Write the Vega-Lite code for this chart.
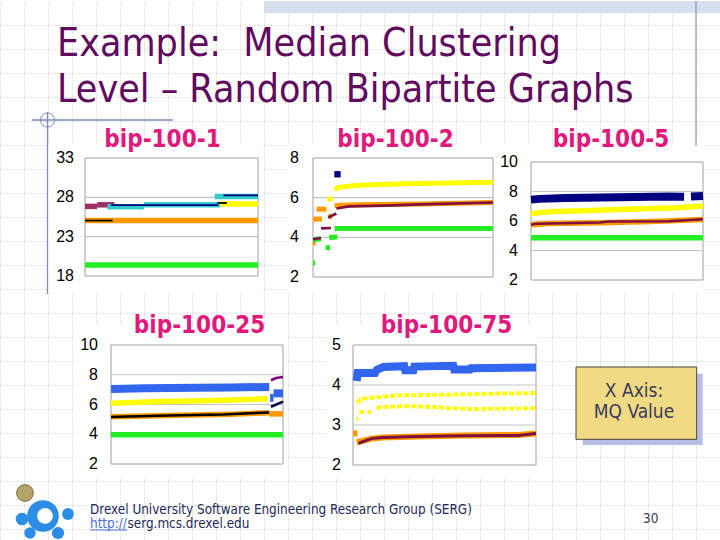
{
"$schema":"https://vega.github.io/schema/vega-lite/v6.json",
"width":720,"height":540,
"autosize":{"type":"fit","contains":"padding"},
"padding":0,
"background":"#ffffff",
"config":{"view":{"stroke":null}},
"resolve":{"scale":{"x":"independent","y":"independent"}},
"datasets":{"series":[
{"p":1,"s":"green","g":1,"x":0,"y":19.4},{"p":1,"s":"green","g":1,"x":100,"y":19.4},
{"p":1,"s":"orange","g":1,"x":0,"y":25.05},{"p":1,"s":"orange","g":1,"x":100,"y":25.05},
{"p":1,"s":"purple","g":1,"x":0,"y":26.85},{"p":1,"s":"purple","g":1,"x":7,"y":26.85},
{"p":1,"s":"purple","g":2,"x":7,"y":27.05},{"p":1,"s":"purple","g":2,"x":17,"y":27.05},
{"p":1,"s":"cyan","g":1,"x":13,"y":26.8},{"p":1,"s":"cyan","g":1,"x":34,"y":26.8},
{"p":1,"s":"cyan","g":2,"x":34,"y":27.05},{"p":1,"s":"cyan","g":2,"x":78,"y":27.05},
{"p":1,"s":"cyan","g":3,"x":75,"y":28.1},{"p":1,"s":"cyan","g":3,"x":100,"y":28.1},
{"p":1,"s":"yellow","g":1,"x":78,"y":27.15},{"p":1,"s":"yellow","g":1,"x":100,"y":27.15},
{"p":1,"s":"black","g":1,"x":0,"y":25.05},{"p":1,"s":"black","g":1,"x":16,"y":25.05},
{"p":1,"s":"black","g":2,"x":76.5,"y":27.28},{"p":1,"s":"black","g":2,"x":82,"y":27.28},
{"p":1,"s":"navy","g":1,"x":15,"y":27.0},{"p":1,"s":"navy","g":1,"x":77,"y":27.0},
{"p":1,"s":"navy","g":2,"x":80,"y":28.25},{"p":1,"s":"navy","g":2,"x":100,"y":28.25},

{"p":2,"s":"orange","g":1,"x":0,"y":3.72},{"p":2,"s":"orange","g":1,"x":1.5,"y":3.72},
{"p":2,"s":"orange","g":2,"x":0,"y":4.92},{"p":2,"s":"orange","g":2,"x":5,"y":4.92},
{"p":2,"s":"orange","g":3,"x":2,"y":5.42},{"p":2,"s":"orange","g":3,"x":7.5,"y":5.42},
{"p":2,"s":"orange","g":4,"x":8.5,"y":5.05},{"p":2,"s":"orange","g":4,"x":10.5,"y":5.05},
{"p":2,"s":"orange","g":5,"x":12,"y":5.6},{"p":2,"s":"orange","g":5,"x":25,"y":5.64},{"p":2,"s":"orange","g":5,"x":60,"y":5.68},{"p":2,"s":"orange","g":5,"x":100,"y":5.76},
{"p":2,"s":"maroon","g":1,"x":0,"y":3.9},{"p":2,"s":"maroon","g":1,"x":4.5,"y":3.97},
{"p":2,"s":"maroon","g":2,"x":4.5,"y":4.45},{"p":2,"s":"maroon","g":2,"x":10,"y":4.47},
{"p":2,"s":"maroon","g":3,"x":8.5,"y":5.0},{"p":2,"s":"maroon","g":3,"x":13,"y":5.2},
{"p":2,"s":"maroon","g":4,"x":13,"y":5.45},{"p":2,"s":"maroon","g":4,"x":20,"y":5.56},{"p":2,"s":"maroon","g":4,"x":40,"y":5.6},{"p":2,"s":"maroon","g":4,"x":60,"y":5.66},{"p":2,"s":"maroon","g":4,"x":100,"y":5.76},
{"p":2,"s":"green","g":1,"x":0,"y":2.7},{"p":2,"s":"green","g":1,"x":1.2,"y":2.7},
{"p":2,"s":"green","g":2,"x":0.5,"y":3.88},{"p":2,"s":"green","g":2,"x":4.5,"y":3.93},
{"p":2,"s":"green","g":3,"x":7,"y":3.48},{"p":2,"s":"green","g":3,"x":9.5,"y":3.48},
{"p":2,"s":"green","g":4,"x":9,"y":3.98},{"p":2,"s":"green","g":4,"x":13.5,"y":4.03},
{"p":2,"s":"green","g":5,"x":12,"y":4.44},{"p":2,"s":"green","g":5,"x":100,"y":4.44},
{"p":2,"s":"yellow","g":1,"x":8,"y":5.92},{"p":2,"s":"yellow","g":1,"x":11,"y":5.95},
{"p":2,"s":"yellow","g":2,"x":12,"y":6.38},{"p":2,"s":"yellow","g":2,"x":14,"y":6.52},{"p":2,"s":"yellow","g":2,"x":25,"y":6.62},{"p":2,"s":"yellow","g":2,"x":50,"y":6.7},{"p":2,"s":"yellow","g":2,"x":75,"y":6.74},{"p":2,"s":"yellow","g":2,"x":100,"y":6.78},
{"p":2,"s":"navy","g":1,"x":13.6,"y":7.18},

{"p":3,"s":"navy","g":1,"x":0,"y":7.45},{"p":3,"s":"navy","g":1,"x":5,"y":7.5},{"p":3,"s":"navy","g":1,"x":20,"y":7.56},{"p":3,"s":"navy","g":1,"x":40,"y":7.6},{"p":3,"s":"navy","g":1,"x":60,"y":7.63},{"p":3,"s":"navy","g":1,"x":80,"y":7.66},{"p":3,"s":"navy","g":1,"x":89,"y":7.64},
{"p":3,"s":"navy","g":2,"x":93,"y":7.66},{"p":3,"s":"navy","g":2,"x":100,"y":7.7},
{"p":3,"s":"yellow","g":1,"x":0,"y":6.5},{"p":3,"s":"yellow","g":1,"x":10,"y":6.62},{"p":3,"s":"yellow","g":1,"x":30,"y":6.7},{"p":3,"s":"yellow","g":1,"x":50,"y":6.78},{"p":3,"s":"yellow","g":1,"x":70,"y":6.85},{"p":3,"s":"yellow","g":1,"x":85,"y":6.9},{"p":3,"s":"yellow","g":1,"x":100,"y":7.02},
{"p":3,"s":"orange","g":1,"x":0,"y":5.75},{"p":3,"s":"orange","g":1,"x":10,"y":5.83},{"p":3,"s":"orange","g":1,"x":40,"y":5.88},{"p":3,"s":"orange","g":1,"x":70,"y":5.96},{"p":3,"s":"orange","g":1,"x":100,"y":6.1},
{"p":3,"s":"maroon","g":1,"x":0,"y":5.74},{"p":3,"s":"maroon","g":1,"x":3,"y":5.82},{"p":3,"s":"maroon","g":1,"x":40,"y":5.9},{"p":3,"s":"maroon","g":1,"x":45,"y":5.96},{"p":3,"s":"maroon","g":1,"x":80,"y":5.98},{"p":3,"s":"maroon","g":1,"x":100,"y":6.12},
{"p":3,"s":"green","g":1,"x":0,"y":4.87},{"p":3,"s":"green","g":1,"x":100,"y":4.87},

{"p":4,"s":"blue","g":1,"x":0,"y":7.05},{"p":4,"s":"blue","g":1,"x":20,"y":7.1},{"p":4,"s":"blue","g":1,"x":50,"y":7.12},{"p":4,"s":"blue","g":1,"x":70,"y":7.15},{"p":4,"s":"blue","g":1,"x":92,"y":7.18},
{"p":4,"s":"blue","g":2,"x":92.5,"y":6.45},{"p":4,"s":"blue","g":2,"x":94.5,"y":6.45},
{"p":4,"s":"blue","g":3,"x":94.5,"y":6.75},{"p":4,"s":"blue","g":3,"x":100,"y":6.75},
{"p":4,"s":"yellow","g":1,"x":0,"y":6.08},{"p":4,"s":"yellow","g":1,"x":30,"y":6.2},{"p":4,"s":"yellow","g":1,"x":60,"y":6.27},{"p":4,"s":"yellow","g":1,"x":91,"y":6.38},
{"p":4,"s":"orange","g":1,"x":0,"y":5.17},{"p":4,"s":"orange","g":1,"x":40,"y":5.27},{"p":4,"s":"orange","g":1,"x":70,"y":5.35},{"p":4,"s":"orange","g":1,"x":92,"y":5.45},
{"p":4,"s":"orange","g":2,"x":92,"y":5.37},{"p":4,"s":"orange","g":2,"x":100,"y":5.37},
{"p":4,"s":"black","g":1,"x":0,"y":5.16},{"p":4,"s":"black","g":1,"x":10,"y":5.2},{"p":4,"s":"black","g":1,"x":40,"y":5.27},{"p":4,"s":"black","g":1,"x":65,"y":5.33},{"p":4,"s":"black","g":1,"x":92,"y":5.47},
{"p":4,"s":"ink","g":1,"x":93,"y":5.85},{"p":4,"s":"ink","g":1,"x":100,"y":6.2},
{"p":4,"s":"violet","g":1,"x":93,"y":7.63},{"p":4,"s":"violet","g":1,"x":96,"y":7.78},{"p":4,"s":"violet","g":1,"x":100,"y":7.85},
{"p":4,"s":"green","g":1,"x":0,"y":3.97},{"p":4,"s":"green","g":1,"x":100,"y":3.97},

{"p":5,"s":"blue","g":1,"x":2,"y":4.1},{"p":5,"s":"blue","g":1,"x":2.5,"y":4.3},{"p":5,"s":"blue","g":1,"x":12,"y":4.3},{"p":5,"s":"blue","g":1,"x":13,"y":4.38},{"p":5,"s":"blue","g":1,"x":16.6,"y":4.45},{"p":5,"s":"blue","g":1,"x":28,"y":4.47},{"p":5,"s":"blue","g":1,"x":28.5,"y":4.37},{"p":5,"s":"blue","g":1,"x":33,"y":4.37},{"p":5,"s":"blue","g":1,"x":33.5,"y":4.46},{"p":5,"s":"blue","g":1,"x":54.8,"y":4.48},{"p":5,"s":"blue","g":1,"x":55.3,"y":4.39},{"p":5,"s":"blue","g":1,"x":64,"y":4.39},{"p":5,"s":"blue","g":1,"x":64.5,"y":4.42},{"p":5,"s":"blue","g":1,"x":100,"y":4.44},
{"p":5,"s":"yellow","g":1,"x":2.5,"y":3.55},{"p":5,"s":"yellow","g":1,"x":4,"y":3.65},{"p":5,"s":"yellow","g":1,"x":15,"y":3.7},{"p":5,"s":"yellow","g":1,"x":25,"y":3.74},{"p":5,"s":"yellow","g":1,"x":55,"y":3.76},{"p":5,"s":"yellow","g":1,"x":75,"y":3.78},{"p":5,"s":"yellow","g":1,"x":100,"y":3.8},
{"p":5,"s":"yellow","g":2,"x":2,"y":3.15},{"p":5,"s":"yellow","g":2,"x":3,"y":3.15},
{"p":5,"s":"yellow","g":3,"x":3.5,"y":3.33},{"p":5,"s":"yellow","g":3,"x":6,"y":3.33},
{"p":5,"s":"yellow","g":4,"x":8,"y":3.32},{"p":5,"s":"yellow","g":4,"x":10,"y":3.32},
{"p":5,"s":"yellow","g":5,"x":13,"y":3.4},{"p":5,"s":"yellow","g":5,"x":15,"y":3.45},{"p":5,"s":"yellow","g":5,"x":30,"y":3.47},{"p":5,"s":"yellow","g":5,"x":45,"y":3.45},{"p":5,"s":"yellow","g":5,"x":52,"y":3.42},{"p":5,"s":"yellow","g":5,"x":65,"y":3.4},{"p":5,"s":"yellow","g":5,"x":100,"y":3.42},
{"p":5,"s":"orange","g":1,"x":0,"y":2.79},{"p":5,"s":"orange","g":1,"x":2.5,"y":2.79},
{"p":5,"s":"orange","g":2,"x":2,"y":2.57},{"p":5,"s":"orange","g":2,"x":5,"y":2.6},{"p":5,"s":"orange","g":2,"x":10,"y":2.66},{"p":5,"s":"orange","g":2,"x":16,"y":2.69},{"p":5,"s":"orange","g":2,"x":35,"y":2.71},{"p":5,"s":"orange","g":2,"x":60,"y":2.74},{"p":5,"s":"orange","g":2,"x":90,"y":2.75},{"p":5,"s":"orange","g":2,"x":100,"y":2.79},
{"p":5,"s":"maroon","g":1,"x":3,"y":2.54},{"p":5,"s":"maroon","g":1,"x":5,"y":2.58},{"p":5,"s":"maroon","g":1,"x":10,"y":2.66},{"p":5,"s":"maroon","g":1,"x":16,"y":2.69},{"p":5,"s":"maroon","g":1,"x":35,"y":2.71},{"p":5,"s":"maroon","g":1,"x":60,"y":2.73},{"p":5,"s":"maroon","g":1,"x":90,"y":2.74},{"p":5,"s":"maroon","g":1,"x":100,"y":2.79}
]},
"layer":[
{"data":{"values":[{}]},"layer":[
 {"mark":{"type":"rect","fill":"#d7deee"},
  "encoding":{
   "x":{"datum":3.6667,"type":"quantitative","scale":{"domain":[0,10],"range":[0,720],"nice":false,"zero":false},
        "axis":{"grid":true,"gridColor":"#c6c6c6","gridDash":[1,2],"gridWidth":1,"domain":false,"ticks":false,"labels":false,"title":null,
        "values":[0,0.3333,0.6667,1,1.3333,1.6667,2,2.3333,2.6667,3,3.3333,3.6667,4,4.3333,4.6667,5,5.3333,5.6667,6,6.3333,6.6667,7,7.3333,7.6667,8,8.3333,8.6667,9,9.3333,9.6667]}},
   "x2":{"datum":10},
   "y":{"datum":0,"type":"quantitative","scale":{"domain":[0,7.5],"range":[0,540],"nice":false,"zero":false},
        "axis":{"grid":true,"gridColor":"#c6c6c6","gridDash":[1,2],"gridWidth":1,"domain":false,"ticks":false,"labels":false,"title":null,
        "values":[0.3333,0.6667,1,1.3333,1.6667,2,2.3333,2.6667,3,3.3333,3.6667,4,4.3333,4.6667,5,5.3333,5.6667,6,6.3333,6.6667,7,7.3333]}},
   "y2":{"datum":0.1667}}}
]},
{"data":{"values":[{}]},"layer":[
 {"mark":{"type":"rect","fill":"#ffffff"},"encoding":{"x":{"datum":0.6667,"type":"quantitative","scale":{"domain":[0,10],"range":[0,720],"nice":false,"zero":false},"axis":null},"x2":{"datum":3.6389},"y":{"datum":1.9861,"type":"quantitative","scale":{"domain":[0,7.5],"range":[0,540],"nice":false,"zero":false},"axis":null},"y2":{"datum":4.0556}}},
 {"mark":{"type":"rect","fill":"#ffffff"},"encoding":{"x":{"datum":4.0,"type":"quantitative","axis":null},"x2":{"datum":9.7917},"y":{"datum":1.9861,"type":"quantitative","axis":null},"y2":{"datum":4.0556}}},
 {"mark":{"type":"rect","fill":"#ffffff"},"encoding":{"x":{"datum":1.0139,"type":"quantitative","axis":null},"x2":{"datum":4.0},"y":{"datum":4.5139,"type":"quantitative","axis":null},"y2":{"datum":6.6389}}},
 {"mark":{"type":"rect","fill":"#ffffff"},"encoding":{"x":{"datum":4.5556,"type":"quantitative","axis":null},"x2":{"datum":7.4722},"y":{"datum":4.5139,"type":"quantitative","axis":null},"y2":{"datum":6.6389}}},
 {"mark":{"type":"rule","color":"#8a92bf","strokeWidth":1.2},"encoding":{"x":{"datum":9.6667,"type":"quantitative","axis":null},"y":{"datum":0,"type":"quantitative","axis":null},"y2":{"datum":2.0139}}},
 {"mark":{"type":"rule","color":"#7f8cc0","strokeWidth":1.3},"encoding":{"x":{"datum":0.4444,"type":"quantitative","axis":null},"x2":{"datum":2.4028},"y":{"datum":1.6528,"type":"quantitative","axis":null}}},
 {"mark":{"type":"rule","color":"#7f8cc0","strokeWidth":1.3},"encoding":{"x":{"datum":0.6597,"type":"quantitative","axis":null},"y":{"datum":1.5417,"type":"quantitative","axis":null},"y2":{"datum":4.0694}}},
 {"mark":{"type":"point","shape":"circle","filled":false,"stroke":"#7f8cc0","strokeWidth":1,"size":200,"opacity":1},"encoding":{"x":{"datum":0.6597,"type":"quantitative","axis":null},"y":{"datum":1.6528,"type":"quantitative","axis":null}}},
 {"mark":{"type":"text","align":"left","baseline":"alphabetic","font":"DejaVu Sans Condensed, Liberation Sans Narrow, DejaVu Sans","fontSize":39,"color":"#600a60"},"encoding":{"x":{"datum":0.7917,"type":"quantitative","axis":null},"y":{"datum":0.7639,"type":"quantitative","axis":null},"text":{"value":"Example:\u00a0 Median Clustering"}}},
 {"mark":{"type":"text","align":"left","baseline":"alphabetic","font":"DejaVu Sans Condensed, Liberation Sans Narrow, DejaVu Sans","fontSize":39,"color":"#600a60"},"encoding":{"x":{"datum":0.7917,"type":"quantitative","axis":null},"y":{"datum":1.4028,"type":"quantitative","axis":null},"text":{"value":"Level – Random Bipartite Graphs"}}},
 {"mark":{"type":"text","align":"center","baseline":"alphabetic","font":"DejaVu Sans Condensed, Liberation Sans Narrow, DejaVu Sans","fontWeight":"bold","fontSize":24,"color":"#e0197d"},"encoding":{"x":{"datum":2.2569,"type":"quantitative","axis":null},"y":{"datum":2.0278,"type":"quantitative","axis":null},"text":{"value":"bip-100-1"}}},
 {"mark":{"type":"text","align":"center","baseline":"alphabetic","font":"DejaVu Sans Condensed, Liberation Sans Narrow, DejaVu Sans","fontWeight":"bold","fontSize":24,"color":"#e0197d"},"encoding":{"x":{"datum":5.4931,"type":"quantitative","axis":null},"y":{"datum":2.0278,"type":"quantitative","axis":null},"text":{"value":"bip-100-2"}}},
 {"mark":{"type":"text","align":"center","baseline":"alphabetic","font":"DejaVu Sans Condensed, Liberation Sans Narrow, DejaVu Sans","fontWeight":"bold","fontSize":24,"color":"#e0197d"},"encoding":{"x":{"datum":8.4861,"type":"quantitative","axis":null},"y":{"datum":2.0278,"type":"quantitative","axis":null},"text":{"value":"bip-100-5"}}},
 {"mark":{"type":"text","align":"center","baseline":"alphabetic","font":"DejaVu Sans Condensed, Liberation Sans Narrow, DejaVu Sans","fontWeight":"bold","fontSize":24,"color":"#e0197d"},"encoding":{"x":{"datum":2.7708,"type":"quantitative","axis":null},"y":{"datum":4.6111,"type":"quantitative","axis":null},"text":{"value":"bip-100-25"}}},
 {"mark":{"type":"text","align":"center","baseline":"alphabetic","font":"DejaVu Sans Condensed, Liberation Sans Narrow, DejaVu Sans","fontWeight":"bold","fontSize":24,"color":"#e0197d"},"encoding":{"x":{"datum":6.2014,"type":"quantitative","axis":null},"y":{"datum":4.6111,"type":"quantitative","axis":null},"text":{"value":"bip-100-75"}}},
 {"mark":{"type":"rect","fill":"#b7bee6"},"encoding":{"x":{"datum":8.0926,"type":"quantitative","axis":null},"x2":{"datum":9.7597},"y":{"datum":5.1759,"type":"quantitative","axis":null},"y2":{"datum":6.1667}}},
 {"mark":{"type":"rect","fill":"#f0da84","stroke":"#4d473a","strokeWidth":1},"encoding":{"x":{"datum":8.0,"type":"quantitative","axis":null},"x2":{"datum":9.6759},"y":{"datum":5.0833,"type":"quantitative","axis":null},"y2":{"datum":6.088}}},
 {"mark":{"type":"text","align":"center","baseline":"alphabetic","font":"DejaVu Sans Condensed, Liberation Sans Narrow, DejaVu Sans","fontSize":19,"color":"#3b3b5c"},"encoding":{"x":{"datum":8.8056,"type":"quantitative","axis":null},"y":{"datum":5.5,"type":"quantitative","axis":null},"text":{"value":"X Axis:"}}},
 {"mark":{"type":"text","align":"center","baseline":"alphabetic","font":"DejaVu Sans Condensed, Liberation Sans Narrow, DejaVu Sans","fontSize":19,"color":"#3b3b5c"},"encoding":{"x":{"datum":8.8056,"type":"quantitative","axis":null},"y":{"datum":5.7917,"type":"quantitative","axis":null},"text":{"value":"MQ Value"}}},
 {"mark":{"type":"text","align":"left","baseline":"alphabetic","font":"DejaVu Sans Condensed, Liberation Sans Narrow, DejaVu Sans","fontSize":13.4,"color":"#23295a"},"encoding":{"x":{"datum":1.25,"type":"quantitative","axis":null},"y":{"datum":7.125,"type":"quantitative","axis":null},"text":{"value":"Drexel University Software Engineering Research Group (SERG)"}}},
 {"mark":{"type":"text","align":"left","baseline":"alphabetic","font":"DejaVu Sans Condensed, Liberation Sans Narrow, DejaVu Sans","fontSize":13.4,"color":"#4a6fd8"},"encoding":{"x":{"datum":1.25,"type":"quantitative","axis":null},"y":{"datum":7.3194,"type":"quantitative","axis":null},"text":{"value":"http://"}}},
 {"mark":{"type":"rule","color":"#4a6fd8","strokeWidth":1},"encoding":{"x":{"datum":1.25,"type":"quantitative","axis":null},"x2":{"datum":1.7639},"y":{"datum":7.3472,"type":"quantitative","axis":null}}},
 {"mark":{"type":"text","align":"left","baseline":"alphabetic","font":"DejaVu Sans Condensed, Liberation Sans Narrow, DejaVu Sans","fontSize":13.4,"color":"#23295a"},"encoding":{"x":{"datum":1.7708,"type":"quantitative","axis":null},"y":{"datum":7.3194,"type":"quantitative","axis":null},"text":{"value":"serg.mcs.drexel.edu"}}},
 {"mark":{"type":"text","align":"left","baseline":"alphabetic","font":"DejaVu Sans Condensed, Liberation Sans Narrow, DejaVu Sans","fontSize":13.5,"color":"#3b3b5c"},"encoding":{"x":{"datum":8.9306,"type":"quantitative","axis":null},"y":{"datum":7.25,"type":"quantitative","axis":null},"text":{"value":"30"}}},
 {"mark":{"type":"point","shape":"circle","filled":true,"fill":"#b5a46a","stroke":"#7a6a3a","strokeWidth":1,"size":280,"opacity":1},"encoding":{"x":{"datum":0.3472,"type":"quantitative","axis":null},"y":{"datum":6.8333,"type":"quantitative","axis":null}}},
 {"mark":{"type":"point","shape":"circle","filled":true,"fill":"#2b8de6","size":1000,"opacity":1},"encoding":{"x":{"datum":0.5972,"type":"quantitative","axis":null},"y":{"datum":7.1528,"type":"quantitative","axis":null}}},
 {"mark":{"type":"point","shape":"circle","filled":true,"fill":"#ffffff","size":250,"opacity":1},"encoding":{"x":{"datum":0.625,"type":"quantitative","axis":null},"y":{"datum":7.1528,"type":"quantitative","axis":null}}},
 {"mark":{"type":"point","shape":"circle","filled":true,"fill":"#2b8de6","size":160,"opacity":1},"encoding":{"x":{"datum":0.3056,"type":"quantitative","axis":null},"y":{"datum":7.1944,"type":"quantitative","axis":null}}},
 {"mark":{"type":"point","shape":"circle","filled":true,"fill":"#2b8de6","size":140,"opacity":1},"encoding":{"x":{"datum":0.9444,"type":"quantitative","axis":null},"y":{"datum":7.125,"type":"quantitative","axis":null}}},
 {"mark":{"type":"point","shape":"circle","filled":true,"fill":"#2b8de6","size":150,"opacity":1},"encoding":{"x":{"datum":0.8056,"type":"quantitative","axis":null},"y":{"datum":7.3889,"type":"quantitative","axis":null}}},
 {"mark":{"type":"point","shape":"circle","filled":true,"fill":"#2b8de6","size":130,"opacity":1},"encoding":{"x":{"datum":0.4167,"type":"quantitative","axis":null},"y":{"datum":7.3889,"type":"quantitative","axis":null}}}
]},
{"layer":[
 {"data":{"values":[{}]},"mark":{"type":"rect","fill":"#ffffff","stroke":"#a0a0a0","strokeWidth":1},"encoding":{"x":{"datum":0,"type":"quantitative","scale":{"domain":[0,100],"range":[85,258],"nice":false,"zero":false},"axis":null},"x2":{"datum":100},"y":{"datum":18,"type":"quantitative","scale":{"domain":[18,33],"range":[275,157],"nice":false,"zero":false},"axis":null},"y2":{"datum":33}}},
 {"data":{"values":[{"t":23},{"t":28}]},"mark":{"type":"rule","color":"#b4b4b4","strokeWidth":1},"encoding":{"x":{"datum":0,"type":"quantitative","axis":null},"x2":{"datum":100},"y":{"field":"t","type":"quantitative","axis":null}}},
 {"data":{"values":[{"t":18},{"t":23},{"t":28},{"t":33}]},"mark":{"type":"text","align":"right","baseline":"middle","dx":-11,"font":"Liberation Sans","fontSize":16,"color":"#000000"},"encoding":{"x":{"datum":0,"type":"quantitative","axis":null},"y":{"field":"t","type":"quantitative","axis":null},"text":{"field":"t","type":"quantitative"}}},
 {"data":{"name":"series"},"transform":[{"filter":"datum.p==1 && indexof(['green','orange','purple','cyan','yellow'],datum.s)>=0"}],"mark":{"type":"line","strokeWidth":5.5,"strokeCap":"butt"},"encoding":{"x":{"field":"x","type":"quantitative","axis":null},"y":{"field":"y","type":"quantitative","axis":null},"detail":{"field":"g","type":"nominal"},"color":{"field":"s","type":"nominal","legend":null,"scale":{"domain":["green","orange","yellow","purple","cyan","navy","blue","maroon","black","violet","ink"],"range":["#22ee22","#ff9900","#ffff00","#993366","#33cccc","#000080","#3366ee","#801040","#000000","#800080","#000040"]}}}},
 {"data":{"name":"series"},"transform":[{"filter":"datum.p==1 && indexof(['black','navy'],datum.s)>=0"}],"mark":{"type":"line","strokeWidth":1.8,"strokeCap":"butt"},"encoding":{"x":{"field":"x","type":"quantitative","axis":null},"y":{"field":"y","type":"quantitative","axis":null},"detail":{"field":"g","type":"nominal"},"color":{"field":"s","type":"nominal","legend":null}}}
]},
{"layer":[
 {"data":{"values":[{}]},"mark":{"type":"rect","fill":"#ffffff","stroke":"#a0a0a0","strokeWidth":1},"encoding":{"x":{"datum":0,"type":"quantitative","scale":{"domain":[0,100],"range":[313,493],"nice":false,"zero":false},"axis":null},"x2":{"datum":100},"y":{"datum":2,"type":"quantitative","scale":{"domain":[2,8],"range":[276,157],"nice":false,"zero":false},"axis":null},"y2":{"datum":8}}},
 {"data":{"values":[{"t":4},{"t":6}]},"mark":{"type":"rule","color":"#b4b4b4","strokeWidth":1},"encoding":{"x":{"datum":0,"type":"quantitative","axis":null},"x2":{"datum":100},"y":{"field":"t","type":"quantitative","axis":null}}},
 {"data":{"values":[{"t":2},{"t":4},{"t":6},{"t":8}]},"mark":{"type":"text","align":"right","baseline":"middle","dx":-14,"font":"Liberation Sans","fontSize":16,"color":"#000000"},"encoding":{"x":{"datum":0,"type":"quantitative","axis":null},"y":{"field":"t","type":"quantitative","axis":null},"text":{"field":"t","type":"quantitative"}}},
 {"data":{"name":"series"},"transform":[{"filter":"datum.p==2 && indexof(['green','orange','yellow'],datum.s)>=0"}],"mark":{"type":"line","strokeWidth":5,"strokeCap":"butt"},"encoding":{"x":{"field":"x","type":"quantitative","axis":null},"y":{"field":"y","type":"quantitative","axis":null},"detail":{"field":"g","type":"nominal"},"color":{"field":"s","type":"nominal","legend":null}}},
 {"data":{"name":"series"},"transform":[{"filter":"datum.p==2 && datum.s=='maroon'"}],"mark":{"type":"line","strokeWidth":2.6,"strokeCap":"butt"},"encoding":{"x":{"field":"x","type":"quantitative","axis":null},"y":{"field":"y","type":"quantitative","axis":null},"detail":{"field":"g","type":"nominal"},"color":{"field":"s","type":"nominal","legend":null}}},
 {"data":{"name":"series"},"transform":[{"filter":"datum.p==2 && datum.s=='navy'"}],"mark":{"type":"point","shape":"square","filled":true,"size":40,"opacity":1},"encoding":{"x":{"field":"x","type":"quantitative","axis":null},"y":{"field":"y","type":"quantitative","axis":null},"color":{"field":"s","type":"nominal","legend":null}}}
]},
{"layer":[
 {"data":{"values":[{}]},"mark":{"type":"rect","fill":"#ffffff","stroke":"#a0a0a0","strokeWidth":1},"encoding":{"x":{"datum":0,"type":"quantitative","scale":{"domain":[0,100],"range":[531,703],"nice":false,"zero":false},"axis":null},"x2":{"datum":100},"y":{"datum":2,"type":"quantitative","scale":{"domain":[2,10],"range":[279,161],"nice":false,"zero":false},"axis":null},"y2":{"datum":10}}},
 {"data":{"values":[{"t":4},{"t":6},{"t":8}]},"mark":{"type":"rule","color":"#c4c4c4","strokeWidth":1},"encoding":{"x":{"datum":0,"type":"quantitative","axis":null},"x2":{"datum":100},"y":{"field":"t","type":"quantitative","axis":null}}},
 {"data":{"values":[{"t":2},{"t":4},{"t":6},{"t":8},{"t":10}]},"mark":{"type":"text","align":"right","baseline":"middle","dx":-13,"font":"Liberation Sans","fontSize":16,"color":"#000000"},"encoding":{"x":{"datum":0,"type":"quantitative","axis":null},"y":{"field":"t","type":"quantitative","axis":null},"text":{"field":"t","type":"quantitative"}}},
 {"data":{"name":"series"},"transform":[{"filter":"datum.p==3 && datum.s=='navy'"}],"mark":{"type":"line","strokeWidth":8,"strokeCap":"butt"},"encoding":{"x":{"field":"x","type":"quantitative","axis":null},"y":{"field":"y","type":"quantitative","axis":null},"detail":{"field":"g","type":"nominal"},"color":{"field":"s","type":"nominal","legend":null}}},
 {"data":{"name":"series"},"transform":[{"filter":"datum.p==3 && indexof(['green','orange','yellow'],datum.s)>=0"}],"mark":{"type":"line","strokeWidth":5.5,"strokeCap":"butt"},"encoding":{"x":{"field":"x","type":"quantitative","axis":null},"y":{"field":"y","type":"quantitative","axis":null},"detail":{"field":"g","type":"nominal"},"color":{"field":"s","type":"nominal","legend":null}}},
 {"data":{"name":"series"},"transform":[{"filter":"datum.p==3 && datum.s=='maroon'"}],"mark":{"type":"line","strokeWidth":2.5,"strokeCap":"butt"},"encoding":{"x":{"field":"x","type":"quantitative","axis":null},"y":{"field":"y","type":"quantitative","axis":null},"detail":{"field":"g","type":"nominal"},"color":{"field":"s","type":"nominal","legend":null}}}
]},
{"layer":[
 {"data":{"values":[{}]},"mark":{"type":"rect","fill":"#ffffff","stroke":"#a0a0a0","strokeWidth":1},"encoding":{"x":{"datum":0,"type":"quantitative","scale":{"domain":[0,100],"range":[111,283],"nice":false,"zero":false},"axis":null},"x2":{"datum":100},"y":{"datum":2,"type":"quantitative","scale":{"domain":[2,10],"range":[463,344],"nice":false,"zero":false},"axis":null},"y2":{"datum":10}}},
 {"data":{"values":[{"t":4},{"t":6},{"t":8}]},"mark":{"type":"rule","color":"#c4c4c4","strokeWidth":1},"encoding":{"x":{"datum":0,"type":"quantitative","axis":null},"x2":{"datum":100},"y":{"field":"t","type":"quantitative","axis":null}}},
 {"data":{"values":[{"t":2},{"t":4},{"t":6},{"t":8},{"t":10}]},"mark":{"type":"text","align":"right","baseline":"middle","dx":-13,"font":"Liberation Sans","fontSize":16,"color":"#000000"},"encoding":{"x":{"datum":0,"type":"quantitative","axis":null},"y":{"field":"t","type":"quantitative","axis":null},"text":{"field":"t","type":"quantitative"}}},
 {"data":{"name":"series"},"transform":[{"filter":"datum.p==4 && datum.s=='blue'"}],"mark":{"type":"line","strokeWidth":8,"strokeCap":"butt"},"encoding":{"x":{"field":"x","type":"quantitative","axis":null},"y":{"field":"y","type":"quantitative","axis":null},"detail":{"field":"g","type":"nominal"},"color":{"field":"s","type":"nominal","legend":null}}},
 {"data":{"name":"series"},"transform":[{"filter":"datum.p==4 && indexof(['green','orange','yellow'],datum.s)>=0"}],"mark":{"type":"line","strokeWidth":5.5,"strokeCap":"butt"},"encoding":{"x":{"field":"x","type":"quantitative","axis":null},"y":{"field":"y","type":"quantitative","axis":null},"detail":{"field":"g","type":"nominal"},"color":{"field":"s","type":"nominal","legend":null}}},
 {"data":{"name":"series"},"transform":[{"filter":"datum.p==4 && indexof(['black','ink','violet'],datum.s)>=0"}],"mark":{"type":"line","strokeWidth":2.5,"strokeCap":"butt"},"encoding":{"x":{"field":"x","type":"quantitative","axis":null},"y":{"field":"y","type":"quantitative","axis":null},"detail":{"field":"g","type":"nominal"},"color":{"field":"s","type":"nominal","legend":null}}}
]},
{"layer":[
 {"data":{"values":[{}]},"mark":{"type":"rect","fill":"#ffffff","stroke":"#a0a0a0","strokeWidth":1},"encoding":{"x":{"datum":0,"type":"quantitative","scale":{"domain":[0,100],"range":[353,536],"nice":false,"zero":false},"axis":null},"x2":{"datum":100},"y":{"datum":2,"type":"quantitative","scale":{"domain":[2,5],"range":[464,344],"nice":false,"zero":false},"axis":null},"y2":{"datum":5}}},
 {"data":{"values":[{"t":3},{"t":4}]},"mark":{"type":"rule","color":"#c4c4c4","strokeWidth":1},"encoding":{"x":{"datum":0,"type":"quantitative","axis":null},"x2":{"datum":100},"y":{"field":"t","type":"quantitative","axis":null}}},
 {"data":{"values":[{"t":2},{"t":3},{"t":4},{"t":5}]},"mark":{"type":"text","align":"right","baseline":"middle","dx":-12,"font":"Liberation Sans","fontSize":16,"color":"#000000"},"encoding":{"x":{"datum":0,"type":"quantitative","axis":null},"y":{"field":"t","type":"quantitative","axis":null},"text":{"field":"t","type":"quantitative"}}},
 {"data":{"name":"series"},"transform":[{"filter":"datum.p==5 && datum.s=='blue'"}],"mark":{"type":"line","strokeWidth":8,"strokeCap":"butt"},"encoding":{"x":{"field":"x","type":"quantitative","axis":null},"y":{"field":"y","type":"quantitative","axis":null},"detail":{"field":"g","type":"nominal"},"color":{"field":"s","type":"nominal","legend":null}}},
 {"data":{"name":"series"},"transform":[{"filter":"datum.p==5 && datum.s=='yellow'"}],"mark":{"type":"line","strokeWidth":4,"strokeCap":"butt","strokeDash":[5,2]},"encoding":{"x":{"field":"x","type":"quantitative","axis":null},"y":{"field":"y","type":"quantitative","axis":null},"detail":{"field":"g","type":"nominal"},"color":{"field":"s","type":"nominal","legend":null}}},
 {"data":{"name":"series"},"transform":[{"filter":"datum.p==5 && datum.s=='orange'"}],"mark":{"type":"line","strokeWidth":6,"strokeCap":"butt"},"encoding":{"x":{"field":"x","type":"quantitative","axis":null},"y":{"field":"y","type":"quantitative","axis":null},"detail":{"field":"g","type":"nominal"},"color":{"field":"s","type":"nominal","legend":null}}},
 {"data":{"name":"series"},"transform":[{"filter":"datum.p==5 && datum.s=='maroon'"}],"mark":{"type":"line","strokeWidth":3,"strokeCap":"butt"},"encoding":{"x":{"field":"x","type":"quantitative","axis":null},"y":{"field":"y","type":"quantitative","axis":null},"detail":{"field":"g","type":"nominal"},"color":{"field":"s","type":"nominal","legend":null}}}
]}
]
}
